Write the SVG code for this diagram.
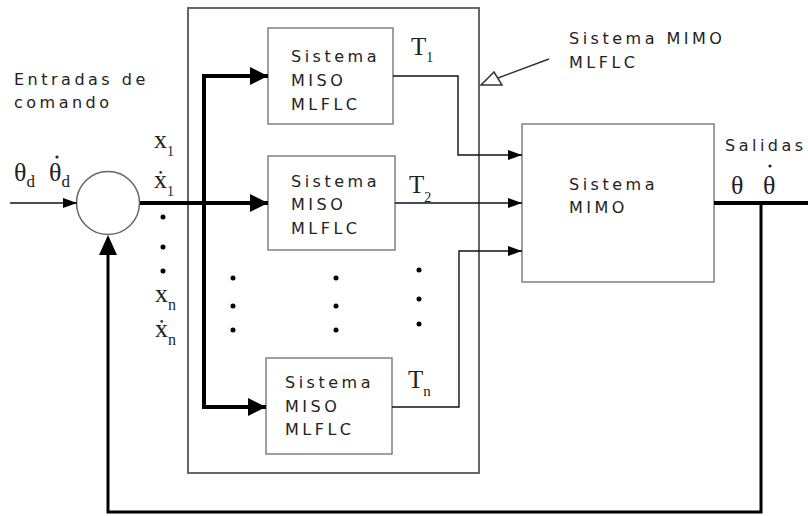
<svg xmlns="http://www.w3.org/2000/svg" width="808" height="516" viewBox="0 0 808 516">
<style>
.lbl{font-family:"DejaVu Sans",Verdana,sans-serif;font-size:16px;letter-spacing:3.5px;fill:#222}
.ser{font-family:"Liberation Serif","Times New Roman",serif;fill:#222}
.box{fill:#fff;stroke:#888;stroke-width:1.6}
.thin{fill:none;stroke:#111;stroke-width:1.4}
.thick{fill:none;stroke:#000;stroke-width:4}
.med{fill:none;stroke:#000;stroke-width:3}
.dot{fill:#000}
</style>
<defs>
<marker id="ah" viewBox="0 0 14 10" refX="14" refY="5" markerWidth="14" markerHeight="10" markerUnits="userSpaceOnUse" orient="auto"><path d="M0,0L14,5L0,10z" fill="#000"/></marker>
<marker id="ahb" viewBox="0 0 18 18" refX="18" refY="9" markerWidth="18" markerHeight="18" markerUnits="userSpaceOnUse" orient="auto"><path d="M0,0L18,9L0,18z" fill="#000"/></marker>
</defs>
<rect width="808" height="516" fill="#fff"/>

<g id="outer">
<rect x="188" y="8" width="291" height="465" fill="none" stroke="#666" stroke-width="2"/>
</g>

<g id="annotation">
<text class="lbl" x="569" y="44">Sistema MIMO</text>
<text class="lbl" x="569" y="68">MLFLC</text>
<line x1="549" y1="59" x2="498" y2="78" stroke="#333" stroke-width="1.5"/>
<path d="M481,85L502,85L494,72z" fill="#fff" stroke="#333" stroke-width="1.5"/>
</g>

<g id="inputs-label">
<text class="lbl" x="14" y="85">Entradas de</text>
<text class="lbl" x="14" y="108">comando</text>
<text class="ser" x="14" y="181" font-size="26">θ<tspan font-size="17" dy="6">d</tspan></text>
<text class="ser" x="49" y="181" font-size="26">θ<tspan font-size="17" dy="6">d</tspan></text>
<circle cx="57" cy="157" r="1.6" fill="#222"/>
</g>

<g id="sum">
<circle cx="108" cy="203" r="31.5" fill="#fff" stroke="#666" stroke-width="1.5"/>
</g>

<g id="xlabels" class="ser">
<text x="154" y="148" font-size="26">x<tspan font-size="14" dy="8">1</tspan></text>
<text x="154" y="188" font-size="26">ẋ<tspan font-size="14" dy="8">1</tspan></text>
<circle class="dot" cx="163" cy="217" r="2.5"/>
<circle class="dot" cx="163" cy="247" r="2.5"/>
<circle class="dot" cx="163" cy="271" r="2.5"/>
<text x="155" y="302" font-size="26">x<tspan font-size="16" dy="8">n</tspan></text>
<text x="155" y="337" font-size="26">ẋ<tspan font-size="16" dy="8">n</tspan></text>
</g>

<g id="miso1">
<rect class="box" x="268" y="28" width="125" height="96"/>
<text class="lbl" x="291" y="62">Sistema</text>
<text class="lbl" x="291" y="86">MISO</text>
<text class="lbl" x="291" y="110">MLFLC</text>
</g>
<g id="miso2">
<rect class="box" x="268" y="156" width="127" height="94"/>
<text class="lbl" x="291" y="187">Sistema</text>
<text class="lbl" x="291" y="210">MISO</text>
<text class="lbl" x="291" y="234">MLFLC</text>
</g>
<g id="miso3">
<rect class="box" x="266" y="358" width="126" height="96"/>
<text class="lbl" x="285" y="388">Sistema</text>
<text class="lbl" x="285" y="412">MISO</text>
<text class="lbl" x="285" y="435">MLFLC</text>
</g>

<g id="vdots">
<circle class="dot" cx="233" cy="278" r="2.5"/>
<circle class="dot" cx="233" cy="306" r="2.5"/>
<circle class="dot" cx="233" cy="330" r="2.5"/>
<circle class="dot" cx="336" cy="278" r="2.5"/>
<circle class="dot" cx="336" cy="306" r="2.5"/>
<circle class="dot" cx="336" cy="330" r="2.5"/>
<circle class="dot" cx="419" cy="270" r="2.5"/>
<circle class="dot" cx="419" cy="299" r="2.5"/>
<circle class="dot" cx="419" cy="324" r="2.5"/>
</g>

<g id="tlabels" class="ser">
<text x="411" y="55" font-size="25">T<tspan font-size="14" dy="7">1</tspan></text>
<text x="409" y="193" font-size="25">T<tspan font-size="14" dy="9">2</tspan></text>
<text x="408" y="388" font-size="25">T<tspan font-size="15" dy="8">n</tspan></text>
</g>

<g id="mimo">
<rect class="box" x="522" y="124" width="192" height="158"/>
<text class="lbl" x="569" y="190">Sistema</text>
<text class="lbl" x="569" y="213">MIMO</text>
</g>

<g id="outputs-label">
<text class="lbl" x="725" y="151">Salidas</text>
<text class="ser" x="731" y="194" font-size="26">θ</text>
<text class="ser" x="763" y="194" font-size="26">θ</text>
<circle cx="770" cy="166" r="1.6" fill="#222"/>
</g>

<g id="connectors">
<line class="thin" x1="10" y1="203" x2="77" y2="203" marker-end="url(#ah)"/>
<line class="thick" x1="140" y1="203" x2="268" y2="203" marker-end="url(#ahb)"/>
<path class="thick" d="M268,76H204V407H266" marker-end="url(#ahb)"/>
<line class="thick" x1="204" y1="76" x2="268" y2="76" marker-end="url(#ahb)"/>
<path class="thin" d="M393,76H458V155H522" marker-end="url(#ah)"/>
<line class="thin" x1="395" y1="203" x2="522" y2="203" marker-end="url(#ah)"/>
<path class="thin" d="M392,407H459V251H522" marker-end="url(#ah)"/>
<line class="thick" x1="714" y1="203" x2="808" y2="203"/>
<path class="med" d="M761,203V512H108V255"/>
<path d="M99,255L108,235L117,255z" fill="#000"/>
</g>
</svg>
